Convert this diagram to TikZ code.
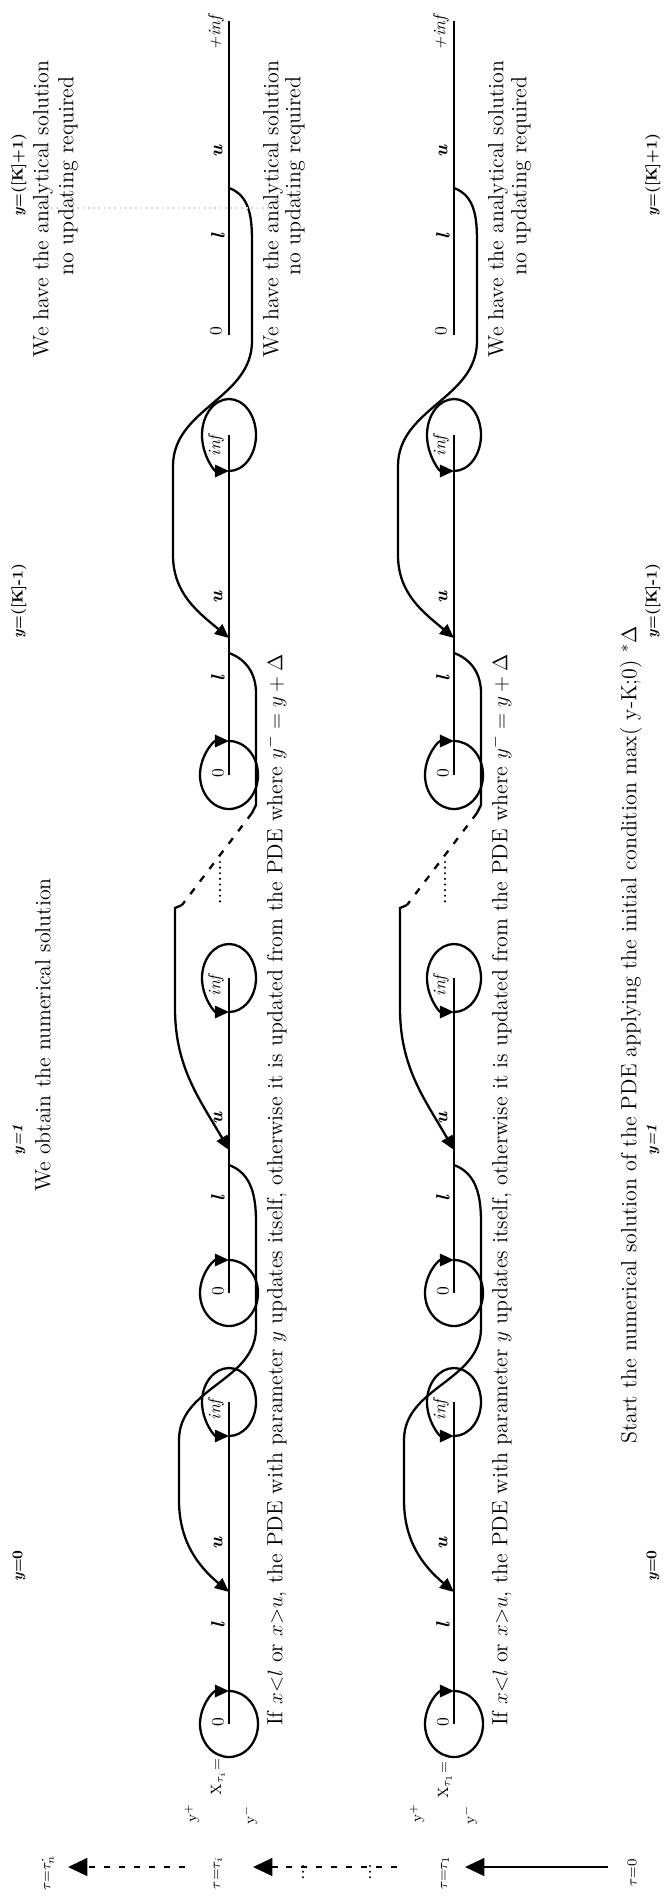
\documentclass[tikz,border=0pt]{standalone}
\usepackage{amsmath}
\usepackage{amssymb}
\usetikzlibrary{arrows.meta}

\begin{document}
\begin{tikzpicture}[x=0.02cm, y=0.02cm]

          \tikzstyle{axisLine} = [line width=1pt];
          \tikzstyle{loopEdge} = [line width=1.3pt, -{Triangle[length=8pt, width=7pt]}];
          \tikzstyle{linkEdge} = [line width=1.3pt, -{Triangle[length=8pt, width=7pt]}];
          \tikzstyle{linkLine} = [line width=1.3pt];
          \tikzstyle{gapEdge} = [line width=1.3pt, dash pattern=on 4pt off 5pt];
          \tikzstyle{dotLine} = [line width=1.3pt, line cap=round, dash pattern=on 0pt off 3.2pt];
          \tikzstyle{tauEdge} = [line width=1.6pt, -{Triangle[length=11pt, width=10pt]}];
          \tikzstyle{tauDash} = [tauEdge, dash pattern=on 3.5pt off 5pt];
          \tikzstyle{noteText} = [rotate=90, inner sep=0pt, font=\fontsize{12.5}{15}\selectfont];
          \tikzstyle{headLabel} = [rotate=90, inner sep=0pt, font=\fontsize{8.5}{10}\selectfont\bfseries];
          \tikzstyle{markLabel} = [rotate=90, inner sep=0pt, font=\fontsize{10}{12}\selectfont];
          \tikzstyle{markBold} = [markLabel, font=\fontsize{11}{12}\selectfont\bfseries\itshape];
          \tikzstyle{markItalic} = [markLabel, font=\fontsize{10}{12}\selectfont\itshape];
          \tikzstyle{tauLabel} = [rotate=90, inner sep=0pt, font=\fontsize{8.5}{10}\selectfont];

          \useasboundingbox (0,0) rectangle (669,-1898);

          % headings
          \node[headLabel] (yZeroTop) at (19,-1566) {\textit{y}=0};
          \node[headLabel] (yOneTop) at (19,-1140) {\textit{y=1}};
          \node[headLabel] (yKmTop) at (19,-601) {\textit{y}=([K]-1)};
          \node[headLabel] (yKpTop) at (19,-175) {\textit{y}=([K]+1)};
          \node[noteText] (obtainTop) at (43,-1035) {We obtain the numerical solution};
          \node[noteText] (haveTop) at (43,-209) {We have the analytical solution};
          \node[noteText] (noUpdTop) at (68,-176) {no updating required};

          \node[headLabel] (yZeroBot) at (653,-1566) {\textit{y}=0};
          \node[headLabel] (yOneBot) at (653,-1140) {\textit{y=1}};
          \node[headLabel] (yKmBot) at (653,-601) {\textit{y}=([K]-1)};
          \node[headLabel] (yKpBot) at (653,-175) {\textit{y}=([K]+1)};
          \node[noteText] (startBot) at (631,-1035) {Start the numerical solution of the PDE applying the initial condition max( y-K;0) $^{*}\Delta$};

          % row tau_i
          \coordinate (zeroY0a) at (229,-1724);
          \coordinate (infY0a) at (229,-1402);
          \coordinate (inY0a) at (229,-1592);
          \coordinate (zeroY1a) at (229,-1293);
          \coordinate (infY1a) at (229,-978);
          \coordinate (outY1a) at (229,-1165);
          \coordinate (inY1a) at (229,-1150);
          \coordinate (zeroYKa) at (229,-775);
          \coordinate (infYKa) at (229,-435);
          \coordinate (outYKa) at (229,-653);
          \coordinate (inYKa) at (229,-638);
          \coordinate (zeroYKpa) at (229,-335);
          \coordinate (infYKpa) at (229,-21);
          \coordinate (outYKpa) at (229,-188);
          \coordinate (gapTopa) at (252,-813);
          \coordinate (gapBota) at (182,-905);

          \draw[axisLine] (zeroY0a) -- (infY0a);
          \draw[axisLine] (zeroY1a) -- (infY1a);
          \draw[axisLine] (zeroYKa) -- (infYKa);
          \draw[axisLine] (zeroYKpa) -- (infYKpa);

          \draw[loopEdge] (zeroY0a) ++(0,33) arc[start angle=450, end angle=90, x radius=29, y radius=33];
          \draw[loopEdge] (infY0a) ++(0,-34) arc[start angle=-90, end angle=270, x radius=27, y radius=34];
          \draw[loopEdge] (zeroY1a) ++(0,33) arc[start angle=450, end angle=90, x radius=29, y radius=33];
          \draw[loopEdge] (infY1a) ++(0,-34) arc[start angle=-90, end angle=270, x radius=27, y radius=34];
          \draw[loopEdge] (zeroYKa) ++(0,34) arc[start angle=450, end angle=90, x radius=29, y radius=34];
          \draw[loopEdge] (infYKa) ++(0,-36) arc[start angle=-90, end angle=270, x radius=27, y radius=36];

          \node[markLabel] (zeroLY0a) at (218,-1722) {0};
          \node[markBold] (lLY0a) at (218,-1626) {l};
          \node[markBold] (uLY0a) at (218,-1543) {u};
          \node[markItalic] (infLY0a) at (216,-1410) {inf};
          \node[markLabel] (zeroLY1a) at (218,-1291) {0};
          \node[markBold] (lLY1a) at (218,-1199) {l};
          \node[markBold] (uLY1a) at (218,-1118) {u};
          \node[markItalic] (infLY1a) at (216,-986) {inf};
          \node[markLabel] (zeroLYKa) at (218,-773) {0};
          \node[markBold] (lLYKa) at (218,-679) {l};
          \node[markBold] (uLYKa) at (218,-597) {u};
          \node[markItalic] (infLYKa) at (216,-446) {inf};
          \node[markLabel] (zeroLYKpa) at (216,-331) {0};
          \node[markBold] (lLYKpa) at (218,-237) {l};
          \node[markBold] (uLYKpa) at (218,-151) {u};
          \node[markItalic] (infLYKpa) at (216,-33) {+inf};

          \draw[linkEdge] (outY1a) to[out=-20,in=90] ++(27,-57) -- ++(0,-106) to[out=-90,in=90] ++(-77,-112) -- ++(0,-60) to[out=-90,in=140] (inY0a);
          \draw[linkEdge] (gapBota) -- ++(-7,-3) -- ++(0,-100) to[out=-90,in=120] (inY1a);
          \draw[linkLine] (outYKa) to[out=-20,in=90] ++(27,-40) -- ++(0,-112) -- (gapTopa);
          \draw[gapEdge] (gapTopa) -- (gapBota);
          \draw[dotLine] (220,-862) -- (220,-902);
          \draw[linkEdge] (outYKpa) to[out=-20,in=90] ++(23,-55) -- ++(0,-98) to[out=-90,in=90] ++(-79,-125) -- ++(0,-89) to[out=-90,in=140] (inYKa);
          \draw[gray!30, dotted, line width=1pt] (51,-208) -- (277,-208);

          \node[noteText] (ruleA) at (276,-1190) {If $x{<}l$ or $x{>}u$, the PDE with parameter $y$ updates itself, otherwise it is updated from the PDE where $y^{-} = y + \Delta$};
          \node[noteText] (haveA) at (273,-209) {We have the analytical solution};
          \node[noteText] (noUpdA) at (295,-176) {no updating required};

          % row tau_1
          \coordinate (zeroY0b) at (454,-1724);
          \coordinate (infY0b) at (454,-1402);
          \coordinate (inY0b) at (454,-1592);
          \coordinate (zeroY1b) at (454,-1293);
          \coordinate (infY1b) at (454,-978);
          \coordinate (outY1b) at (454,-1165);
          \coordinate (inY1b) at (454,-1150);
          \coordinate (zeroYKb) at (454,-775);
          \coordinate (infYKb) at (454,-435);
          \coordinate (outYKb) at (454,-653);
          \coordinate (inYKb) at (454,-638);
          \coordinate (zeroYKpb) at (454,-335);
          \coordinate (infYKpb) at (454,-21);
          \coordinate (outYKpb) at (454,-188);
          \coordinate (gapTopb) at (477,-813);
          \coordinate (gapBotb) at (407,-905);

          \draw[axisLine] (zeroY0b) -- (infY0b);
          \draw[axisLine] (zeroY1b) -- (infY1b);
          \draw[axisLine] (zeroYKb) -- (infYKb);
          \draw[axisLine] (zeroYKpb) -- (infYKpb);

          \draw[loopEdge] (zeroY0b) ++(0,33) arc[start angle=450, end angle=90, x radius=29, y radius=33];
          \draw[loopEdge] (infY0b) ++(0,-34) arc[start angle=-90, end angle=270, x radius=27, y radius=34];
          \draw[loopEdge] (zeroY1b) ++(0,33) arc[start angle=450, end angle=90, x radius=29, y radius=33];
          \draw[loopEdge] (infY1b) ++(0,-34) arc[start angle=-90, end angle=270, x radius=27, y radius=34];
          \draw[loopEdge] (zeroYKb) ++(0,34) arc[start angle=450, end angle=90, x radius=29, y radius=34];
          \draw[loopEdge] (infYKb) ++(0,-36) arc[start angle=-90, end angle=270, x radius=27, y radius=36];

          \node[markLabel] (zeroLY0b) at (443,-1722) {0};
          \node[markBold] (lLY0b) at (443,-1626) {l};
          \node[markBold] (uLY0b) at (443,-1543) {u};
          \node[markItalic] (infLY0b) at (441,-1410) {inf};
          \node[markLabel] (zeroLY1b) at (443,-1291) {0};
          \node[markBold] (lLY1b) at (443,-1199) {l};
          \node[markBold] (uLY1b) at (443,-1118) {u};
          \node[markItalic] (infLY1b) at (441,-986) {inf};
          \node[markLabel] (zeroLYKb) at (443,-773) {0};
          \node[markBold] (lLYKb) at (443,-679) {l};
          \node[markBold] (uLYKb) at (443,-597) {u};
          \node[markItalic] (infLYKb) at (441,-446) {inf};
          \node[markLabel] (zeroLYKpb) at (441,-331) {0};
          \node[markBold] (lLYKpb) at (443,-237) {l};
          \node[markBold] (uLYKpb) at (443,-151) {u};
          \node[markItalic] (infLYKpb) at (441,-33) {+inf};

          \draw[linkEdge] (outY1b) to[out=-20,in=90] ++(27,-57) -- ++(0,-106) to[out=-90,in=90] ++(-77,-112) -- ++(0,-60) to[out=-90,in=140] (inY0b);
          \draw[linkEdge] (gapBotb) -- ++(-7,-3) -- ++(0,-100) to[out=-90,in=120] (inY1b);
          \draw[linkLine] (outYKb) to[out=-20,in=90] ++(27,-40) -- ++(0,-112) -- (gapTopb);
          \draw[gapEdge] (gapTopb) -- (gapBotb);
          \draw[dotLine] (445,-862) -- (445,-902);
          \draw[linkEdge] (outYKpb) to[out=-20,in=90] ++(23,-55) -- ++(0,-98) to[out=-90,in=90] ++(-79,-125) -- ++(0,-89) to[out=-90,in=140] (inYKb);

          \node[noteText] (ruleB) at (501,-1190) {If $x{<}l$ or $x{>}u$, the PDE with parameter $y$ updates itself, otherwise it is updated from the PDE where $y^{-} = y + \Delta$};
          \node[noteText] (haveB) at (498,-209) {We have the analytical solution};
          \node[noteText] (noUpdB) at (521,-176) {no updating required};

          % row labels
          \node[tauLabel] (yPlusA) at (192,-1813) {y$^{+}$};
          \node[tauLabel] (yMinusA) at (250,-1815) {y$^{-}$};
          \node[tauLabel] (xLabA) at (218,-1777) {X$_{\tau_i}$=};
          \node[tauLabel] (yPlusB) at (417,-1813) {y$^{+}$};
          \node[tauLabel] (yMinusB) at (470,-1815) {y$^{-}$};
          \node[tauLabel] (xLabB) at (445,-1780) {X$_{\tau_1}$=};

          % tau axis
          \node[tauLabel] (tauZero) at (632,-1873) {$\tau{=}0$};
          \node[tauLabel] (tauOne) at (445,-1873) {$\tau{=}\tau_1$};
          \node[tauLabel] (tauI) at (218,-1873) {$\tau{=}\tau_i$};
          \node[tauLabel] (tauN) at (47,-1873) {$\tau{=}\tau_n^{\boldsymbol{\cdot}}$};

          \coordinate (tauAxisZero) at (608,-1867);
          \coordinate (tauAxisOne) at (465,-1867);
          \coordinate (tauAxisOneS) at (397,-1867);
          \coordinate (tauAxisI) at (253,-1867);
          \coordinate (tauAxisIS) at (185,-1867);
          \coordinate (tauAxisN) at (68,-1867);

          \draw[tauEdge] (tauAxisZero) -- (tauAxisOne);
          \draw[tauDash] (tauAxisOneS) -- (tauAxisI);
          \draw[tauDash] (tauAxisIS) -- (tauAxisN);
          \draw[dotLine] (303,-1866) -- (303,-1880);
          \draw[dotLine] (370,-1866) -- (370,-1880);
        \end{tikzpicture}
\end{document}
